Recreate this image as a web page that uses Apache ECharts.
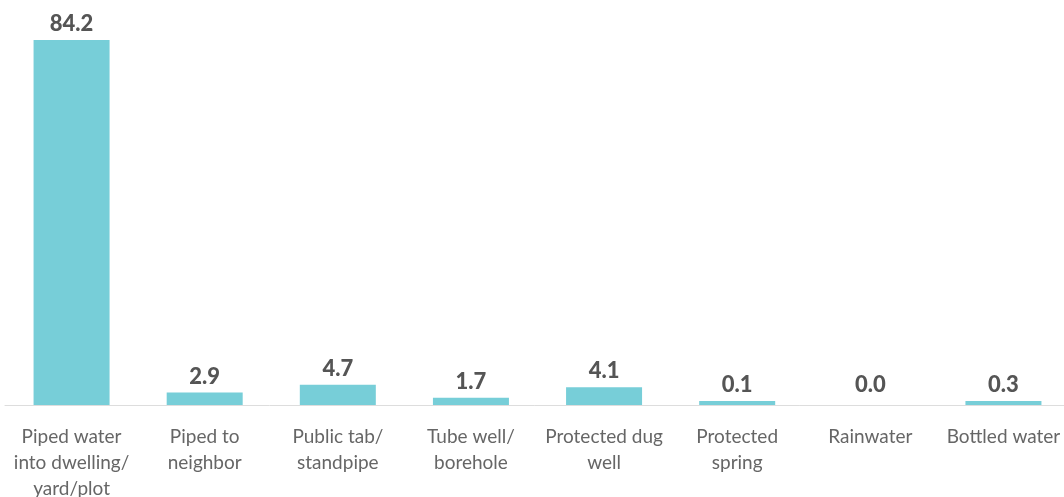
<!DOCTYPE html>
<html>
<head>
<meta charset="utf-8">
<script src="https://cdn.jsdelivr.net/npm/echarts@6/dist/echarts.min.js"></script>
<style>
  html, body { margin: 0; padding: 0; background: #fff; }
  #chart { width: 1064px; height: 497px; }
</style>
</head>
<body>
<div id="chart"></div>
<script>
// Main source of drinking water (% of households)
const categories = [
  'Piped water\ninto dwelling/\nyard/plot',
  'Piped to\nneighbor',
  'Public tab/\nstandpipe',
  'Tube well/\nborehole',
  'Protected dug\nwell',
  'Protected\nspring',
  'Rainwater',
  'Bottled water'
];
const shares = [84.2, 2.9, 4.7, 1.7, 4.1, 0.1, 0.0, 0.3];

const chart = echarts.init(document.getElementById('chart'));
chart.setOption({
  animation: false,
  grid: {
    left: 5, right: -6, top: 40, bottom: 92,
    containLabel: false,
    outerBoundsMode: 'none'
  },
  xAxis: {
    type: 'category',
    data: categories,
    axisLine: { show: true, lineStyle: { color: '#dddddd', width: 1 } },
    axisTick: { show: false },
    axisLabel: {
      interval: 0,
      margin: 19,
      color: '#666666',
      fontFamily: 'Lato',
      fontSize: 19,
      lineHeight: 26
    }
  },
  yAxis: {
    type: 'value',
    min: 0,
    max: 84.2,
    show: false,
    splitLine: { show: false }
  },
  series: [{
    type: 'bar',
    data: shares,
    barWidth: 76,
    barMinHeight: 4,
    itemStyle: {
      // zero-valued categories get no visible bar
      color: p => (p.value > 0 ? '#77ced8' : 'rgba(0,0,0,0)')
    },
    label: {
      show: true,
      position: 'top',
      distance: 5,
      formatter: p => p.value.toFixed(1),
      color: '#555555',
      fontFamily: 'Lato',
      fontWeight: 900,
      fontSize: 22
    }
  }]
});
</script>
</body>
</html>
